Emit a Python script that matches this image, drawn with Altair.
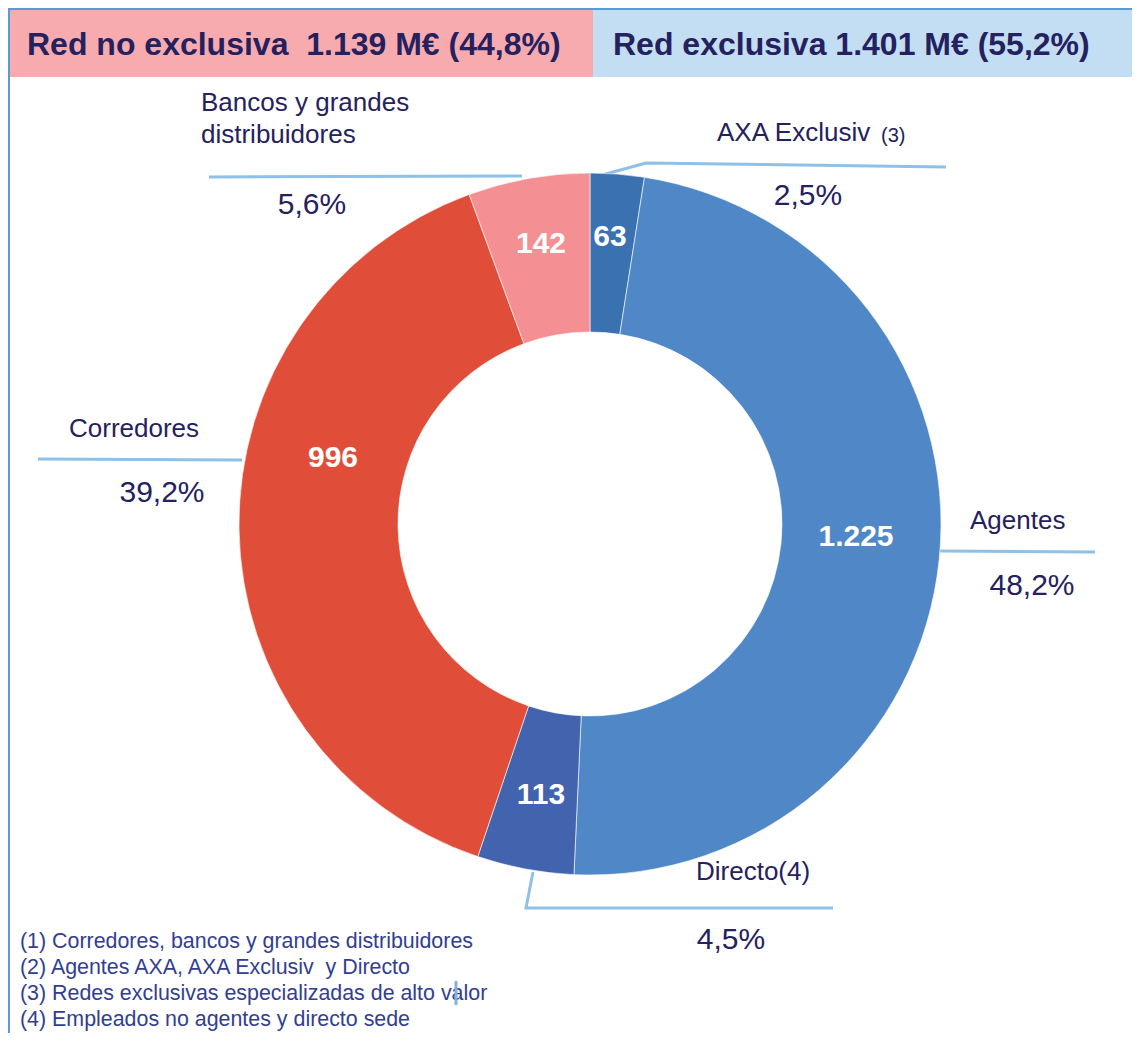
import altair as alt
import pandas as pd

# ---- data ----
categories = ["AXA Exclusiv", "Agentes", "Directo", "Corredores", "Bancos y grandes distribuidores"]
values = [63, 1225, 113, 996, 142]
value_labels = ["63", "1.225", "113", "996", "142"]
pct_labels = ["2,5%", "48,2%", "4,5%", "39,2%", "5,6%"]
slice_colors = ["#3A71B1", "#5088C7", "#4263AE", "#E04E3A", "#F48F93"]

header_texts = ["Red no exclusiva \u00a01.139 M€ (44,8%)", "Red exclusiva 1.401 M€ (55,2%)"]
footnotes = [
    "(1) Corredores, bancos y grandes distribuidores",
    "(2) Agentes AXA, AXA Exclusiv \u00a0y Directo",
    "(3) Redes exclusivas especializadas de alto valor",
    "(4) Empleados no agentes y directo sede",
]
name_texts = ["Bancos y grandes", "distribuidores", "AXA Exclusiv", "Agentes", "Directo(4)", "Corredores"]

# ---- layout (page px; chart origin is at page 8,8) ----
OFF = 8
CX, CY = 590 - OFF, 524 - OFF
R_OUT, R_IN = 351, 192

slice_label_pos = [(610, 237), (856, 537), (541, 795), (333, 458), (541, 244)]
name_pos = [(201, 103), (201, 135), (717, 133), (970, 521), (696, 872), (69, 429)]
pct_pos = [(808, 196), (1032, 586), (731, 940), (162, 493), (312, 205)]
foot_pos = [(20, 942), (20, 968), (20, 994), (20, 1020)]
header_pos = [(27, 45), (613, 45)]
header_rects = [(9, 593, 9, 77, "#F7ABAF"), (593, 1140, 9, 77, "#C3DEF2")]
leaders = [
    [(209, 177), (522, 176)],
    [(602, 175), (646, 163), (946, 167)],
    [(940, 551), (1095, 552)],
    [(533, 872), (526, 908), (833, 908)],
    [(38, 459), (242, 460)],
]

NAVY = "#25215E"
FOOT = "#323E91"
LEAD = "#8EC0E8"
BORDER = "#5B9BD5"

W, H = 1124, 1025

def X(f):
    return alt.X(f, type="quantitative", scale=None, axis=None)

def Y(f):
    return alt.Y(f, type="quantitative", scale=None, axis=None)

# donut
df = pd.DataFrame({
    "cat": categories,
    "value": values,
    "orden": list(range(len(values))),
})

arcs = alt.Chart(df).mark_arc(outerRadius=R_OUT, innerRadius=R_IN, stroke="white", strokeWidth=0.6).encode(
    theta=alt.Theta("value:Q", stack=True),
    color=alt.Color("cat:N", scale=alt.Scale(domain=categories, range=slice_colors), legend=None),
    order=alt.Order("orden:Q"),
    x=alt.value(CX), y=alt.value(CY),
)

sl_df = pd.DataFrame({
    "t": value_labels,
    "x": [p[0] - OFF for p in slice_label_pos],
    "y": [p[1] - OFF for p in slice_label_pos],
})
slice_text = alt.Chart(sl_df).mark_text(
    font="Liberation Sans", fontSize=30, fontWeight="bold", color="white",
    align="center", baseline="middle",
).encode(x=X("x"), y=Y("y"), text="t:N")

# header rects
rect_df = pd.DataFrame([
    {"x": a - OFF, "x2": b - OFF, "y": c - OFF, "y2": d - OFF, "c": col}
    for a, b, c, d, col in header_rects
])
rects = alt.Chart(rect_df).mark_rect().encode(
    x=X("x"), x2="x2", y=Y("y"), y2="y2", color=alt.Color("c:N", scale=None)
)

# borders
border_df = pd.DataFrame([
    {"x": 0, "x2": W, "y": 1, "y2": 1},
    {"x": 1, "x2": 1, "y": 0, "y2": H},
])
borders = alt.Chart(border_df).mark_rule(color=BORDER, strokeWidth=2).encode(
    x=X("x"), x2="x2", y=Y("y"), y2="y2"
)

# tiny tick artifact near footnote 3
tick_df = pd.DataFrame([{"x": 456 - OFF, "x2": 456 - OFF, "y": 981 - OFF, "y2": 1005 - OFF}])
tick = alt.Chart(tick_df).mark_rule(color="#7FB2E0", strokeWidth=3).encode(
    x=X("x"), x2="x2", y=Y("y"), y2="y2"
)

# leader lines
lead_rows = []
for i, pts in enumerate(leaders):
    for j, (px, py) in enumerate(pts):
        lead_rows.append({"g": i, "o": j, "x": px - OFF, "y": py - OFF})
lines = alt.Chart(pd.DataFrame(lead_rows)).mark_line(color=LEAD, strokeWidth=3).encode(
    x=X("x"), y=Y("y"), detail="g:N", order="o:Q"
)

# header texts
hdr_df = pd.DataFrame({"t": header_texts, "x": [p[0] - OFF for p in header_pos], "y": [p[1] - OFF for p in header_pos]})
hdr = alt.Chart(hdr_df).mark_text(
    font="Liberation Sans", fontSize=32, fontWeight="bold", color=NAVY, align="left", baseline="middle"
).encode(x=X("x"), y=Y("y"), text="t:N")

# category names
nm_df = pd.DataFrame({"t": name_texts, "x": [p[0] - OFF for p in name_pos], "y": [p[1] - OFF for p in name_pos]})
names = alt.Chart(nm_df).mark_text(
    font="Liberation Sans", fontSize=26, color=NAVY, align="left", baseline="middle"
).encode(x=X("x"), y=Y("y"), text="t:N")

small_df = pd.DataFrame({"t": ["(3)"], "x": [881 - OFF], "y": [136 - OFF]})
small = alt.Chart(small_df).mark_text(
    font="Liberation Sans", fontSize=20, color=NAVY, align="left", baseline="middle"
).encode(x=X("x"), y=Y("y"), text="t:N")

# percentages
pc_df = pd.DataFrame({"t": pct_labels, "x": [p[0] - OFF for p in pct_pos], "y": [p[1] - OFF for p in pct_pos]})
pcts = alt.Chart(pc_df).mark_text(
    font="Liberation Sans", fontSize=30, color=NAVY, align="center", baseline="middle"
).encode(x=X("x"), y=Y("y"), text="t:N")

# footnotes
ft_df = pd.DataFrame({"t": footnotes, "x": [p[0] - OFF for p in foot_pos], "y": [p[1] - OFF for p in foot_pos]})
foot = alt.Chart(ft_df).mark_text(
    font="Liberation Sans", fontSize=21.4, color=FOOT, align="left", baseline="middle"
).encode(x=X("x"), y=Y("y"), text="t:N")

chart = alt.layer(
    rects, borders, lines, arcs, slice_text, hdr, names, small, pcts, foot, tick
).properties(
    width=W, height=H, padding=0, autosize=alt.AutoSizeParams(type="none"), background="white"
).configure_view(stroke=None)

chart.save("out.html", embed_options={"renderer": "svg", "actions": False})
